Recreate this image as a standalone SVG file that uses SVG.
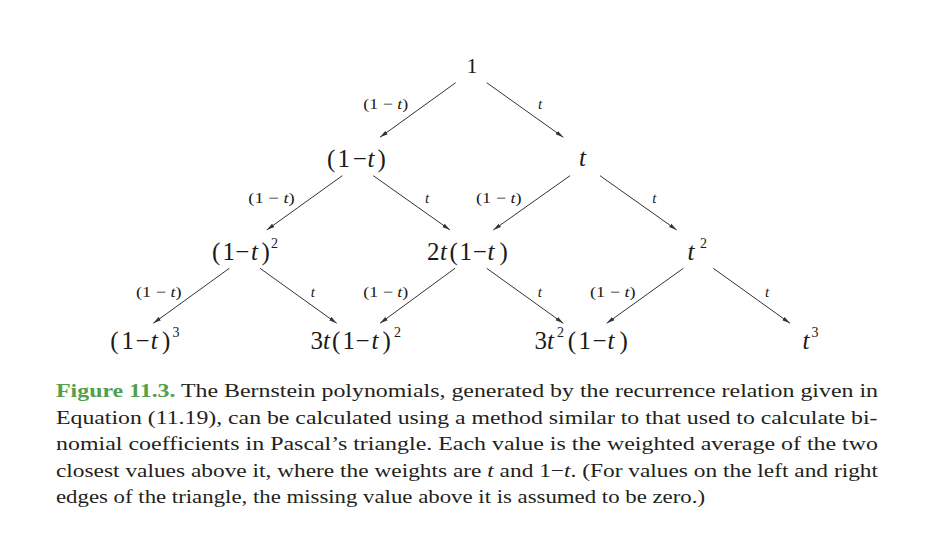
<svg xmlns="http://www.w3.org/2000/svg" width="930" height="541" viewBox="0 0 930 541">
<style>
.node{font-family:"Liberation Serif","Times New Roman",serif;font-size:25px;fill:#1a1a1a}
.top{font-size:22px}
.lbl{font-family:"Liberation Serif","Times New Roman",serif;font-size:15px;fill:#1a1a1a}
.cap{font-family:"Liberation Serif","Times New Roman",serif;font-size:19px;fill:#231f20}
.fig{font-weight:bold;fill:#52a04a}
.it{font-style:italic}
.sup{font-size:14px}
.edge{stroke:#333;stroke-width:1;fill:none;marker-end:url(#ah)}
</style>
<defs>
<marker id="ah" markerUnits="userSpaceOnUse" markerWidth="8" markerHeight="6" refX="8" refY="3" orient="auto">
<path d="M0,0.9 L8,3 L0,5.1 z" fill="#333"/>
</marker>
</defs>
<rect width="930" height="541" fill="#fff"/>

<g id="connectors">
<line class="edge" x1="455.7" y1="82.7" x2="380" y2="137.3"/>
<line class="edge" x1="486.7" y1="82.7" x2="563.3" y2="137.3"/>
<line class="edge" x1="342.3" y1="175.7" x2="266.7" y2="230"/>
<line class="edge" x1="373.3" y1="175.7" x2="450" y2="230"/>
<line class="edge" x1="570" y1="175.7" x2="493.3" y2="230"/>
<line class="edge" x1="600" y1="175.7" x2="676.7" y2="230"/>
<line class="edge" x1="229.3" y1="268.3" x2="153.3" y2="323.3"/>
<line class="edge" x1="260" y1="268.3" x2="336.7" y2="323.3"/>
<line class="edge" x1="455" y1="268.3" x2="380" y2="323.3"/>
<line class="edge" x1="486.7" y1="268.3" x2="563.3" y2="323.3"/>
<line class="edge" x1="683.3" y1="268.3" x2="606.7" y2="323.3"/>
<line class="edge" x1="713.3" y1="268.3" x2="790" y2="323.3"/>
</g>

<g id="edge-labels">
<text class="lbl" x="363.3" y="109" textLength="45" lengthAdjust="spacingAndGlyphs">(1 − <tspan class="it">t</tspan>)</text>
<text class="lbl it" x="538" y="109">t</text>
<text class="lbl" x="248.3" y="203" textLength="46.5" lengthAdjust="spacingAndGlyphs">(1 − <tspan class="it">t</tspan>)</text>
<text class="lbl it" x="425" y="203">t</text>
<text class="lbl" x="476" y="203" textLength="45.7" lengthAdjust="spacingAndGlyphs">(1 − <tspan class="it">t</tspan>)</text>
<text class="lbl it" x="652.3" y="203">t</text>
<text class="lbl" x="136" y="297" textLength="45.7" lengthAdjust="spacingAndGlyphs">(1 − <tspan class="it">t</tspan>)</text>
<text class="lbl it" x="310.7" y="297">t</text>
<text class="lbl" x="363.3" y="297" textLength="45" lengthAdjust="spacingAndGlyphs">(1 − <tspan class="it">t</tspan>)</text>
<text class="lbl it" x="537.7" y="297">t</text>
<text class="lbl" x="590" y="297" textLength="45.7" lengthAdjust="spacingAndGlyphs">(1 − <tspan class="it">t</tspan>)</text>
<text class="lbl it" x="765" y="297">t</text>
</g>

<g id="n1"><text class="node top" x="472" y="73" text-anchor="middle">1</text></g>
<g id="n2a"><text class="node" y="167"><tspan x="327">(</tspan><tspan x="337.5">1</tspan><tspan x="352.8">−</tspan><tspan class="it" x="367.5">t</tspan><tspan x="377.5">)</tspan></text></g>
<g id="n2b"><text class="node it" x="579" y="166">t</text></g>
<g id="n3a"><text class="node" y="260"><tspan x="212">(</tspan><tspan x="222.5">1</tspan><tspan x="235.2">−</tspan><tspan class="it" x="251">t</tspan><tspan x="261.5">)</tspan><tspan class="sup" x="271" dy="-12">2</tspan></text></g>
<g id="n3b"><text class="node" y="260"><tspan x="427">2</tspan><tspan class="it" x="440">t</tspan><tspan x="449.5">(</tspan><tspan x="459.5">1</tspan><tspan x="472.8">−</tspan><tspan class="it" x="487.5">t</tspan><tspan x="499.5">)</tspan></text></g>
<g id="n3c"><text class="node" y="260"><tspan class="it" x="687.5">t</tspan><tspan class="sup" x="700" dy="-12">2</tspan></text></g>
<g id="n4a"><text class="node" y="349"><tspan x="110.2">(</tspan><tspan x="121.5">1</tspan><tspan x="135.5">−</tspan><tspan class="it" x="150.8">t</tspan><tspan x="162">)</tspan><tspan class="sup" x="172.5" dy="-12">3</tspan></text></g>
<g id="n4b"><text class="node" y="349"><tspan x="310.5">3</tspan><tspan class="it" x="323">t</tspan><tspan x="332">(</tspan><tspan x="342.5">1</tspan><tspan x="355.5">−</tspan><tspan class="it" x="371.4">t</tspan><tspan x="382.6">)</tspan><tspan class="sup" x="394" dy="-12">2</tspan></text></g>
<g id="n4c"><text class="node" y="349"><tspan x="534.5">3</tspan><tspan class="it" x="547">t</tspan><tspan class="sup" x="557" dy="-12">2</tspan><tspan x="567.8" dy="12">(</tspan><tspan x="578.4">1</tspan><tspan x="592.5">−</tspan><tspan class="it" x="607.6">t</tspan><tspan x="619.5">)</tspan></text></g>
<g id="n4d"><text class="node" y="349"><tspan class="it" x="802.5">t</tspan><tspan class="sup" x="811.5" dy="-12">3</tspan></text></g>

<g id="caption">
<text class="cap" x="56" y="397" textLength="822" lengthAdjust="spacingAndGlyphs"><tspan class="fig">Figure 11.3.</tspan> The Bernstein polynomials, generated by the recurrence relation given in</text>
<text class="cap" x="56" y="423.5" textLength="821.5" lengthAdjust="spacingAndGlyphs">Equation (11.19), can be calculated using a method similar to that used to calculate bi-</text>
<text class="cap" x="56" y="450" textLength="822" lengthAdjust="spacingAndGlyphs">nomial coefficients in Pascal’s triangle. Each value is the weighted average of the two</text>
<text class="cap" x="56" y="476.5" textLength="822" lengthAdjust="spacingAndGlyphs">closest values above it, where the weights are <tspan class="it">t</tspan> and 1−<tspan class="it">t</tspan>. (For values on the left and right</text>
<text class="cap" x="56" y="503" textLength="649" lengthAdjust="spacingAndGlyphs">edges of the triangle, the missing value above it is assumed to be zero.)</text>
</g>
</svg>
